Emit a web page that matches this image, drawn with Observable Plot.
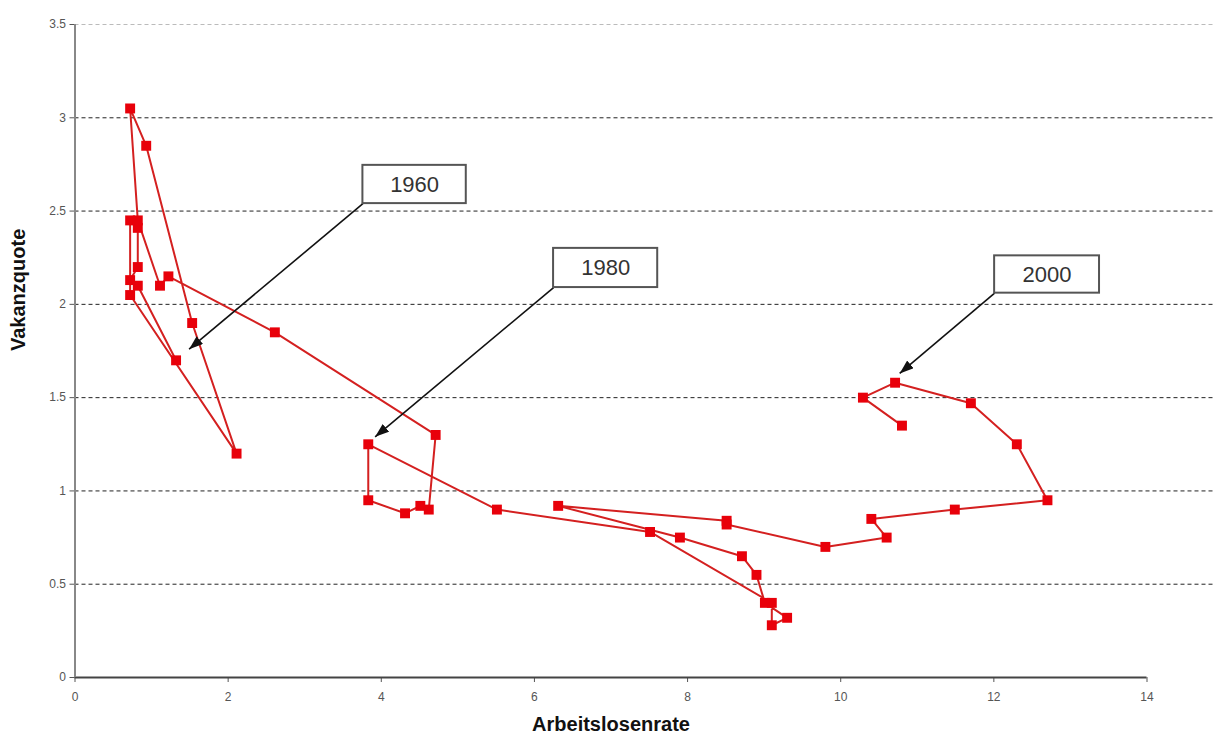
<!DOCTYPE html>
<html><head><meta charset="utf-8">
<script src="https://cdn.jsdelivr.net/npm/d3@7"></script>
<script src="https://cdn.jsdelivr.net/npm/@observablehq/plot@0.6"></script>
<style>
html,body{margin:0;padding:0;background:#fff;}
#chart svg{display:block;}
</style></head><body><div id="chart"></div>
<script>
// Beveridge curve data, Germany 1960-2002
const years = d3.range(1960, 2003);
const unemployment = [
  1.32, 0.82, 0.72, 0.82, 0.82, 0.72, 0.72, 2.11, 1.53, 0.93,
  0.72, 0.82, 1.11, 1.22, 2.61, 4.71, 4.62, 4.51, 4.31, 3.83,
  3.83, 5.51, 7.51, 9.10, 9.10, 9.30, 9.01, 8.90, 8.71, 7.90,
  6.31, 8.51, 8.51, 9.80, 10.60, 10.40, 11.49, 12.70, 12.30, 11.70,
  10.71, 10.29, 10.80
];
const vacancy = [
  1.70, 2.10, 2.13, 2.20, 2.41, 2.45, 2.05, 1.20, 1.90, 2.85,
  3.05, 2.45, 2.10, 2.15, 1.85, 1.30, 0.90, 0.92, 0.88, 0.95,
  1.25, 0.90, 0.78, 0.40, 0.28, 0.32, 0.40, 0.55, 0.65, 0.75,
  0.92, 0.84, 0.82, 0.70, 0.75, 0.85, 0.90, 0.95, 1.25, 1.47,
  1.58, 1.50, 1.35
];
const xTicks = [0, 2, 4, 6, 8, 10, 12, 14];
const yTicks = [0, 0.5, 1, 1.5, 2, 2.5, 3, 3.5];
const xLabel = "Arbeitslosenrate";
const yLabel = "Vakanzquote";

// Annotations (data units): label, box corners, arrow target
const annoLabels = ["1960", "1980", "2000"];
const annoBoxX1 = [3.76, 6.25, 12.01];
const annoBoxX2 = [5.11, 7.61, 13.38];
const annoBoxY1 = [2.54, 2.09, 2.06];
const annoBoxY2 = [2.745, 2.30, 2.26];
const annoTipX = [1.49, 3.92, 10.77];
const annoTipY = [1.76, 1.29, 1.63];

const rows = years.map((yr, i) => ({year: yr, u: unemployment[i], v: vacancy[i]}));
const annos = annoLabels.map((l, i) => ({
  label: l, x1: annoBoxX1[i], x2: annoBoxX2[i], y1: annoBoxY1[i], y2: annoBoxY2[i],
  tx: annoTipX[i], ty: annoTipY[i]
}));
const gridEnd = 14.87;

const svg = Plot.plot({
  width: 1215,
  height: 751,
  marginLeft: 74.5,
  marginRight: 68.5,
  marginTop: 24,
  marginBottom: 74,
  style: {fontFamily: "'Liberation Sans', Arial, sans-serif", fontSize: "12px", color: "#555", background: "#fff"},
  x: {domain: [0, 14], ticks: xTicks, tickFormat: d => String(d), tickSize: 5, tickPadding: 10, label: null},
  y: {domain: [0, 3.5], ticks: yTicks, tickFormat: d => String(d), tickSize: 5, tickPadding: 4, label: null},
  marks: [
    Plot.ruleY(yTicks.filter(d => d > 0 && d < 3.5), {x1: 0, x2: gridEnd, stroke: "#222", strokeWidth: 1, strokeDasharray: "4,3"}),
    Plot.ruleY(yTicks.filter(d => d === 3.5), {x1: 0, x2: gridEnd, stroke: "#bbb", strokeWidth: 1, strokeDasharray: "4,3"}),
    Plot.ruleY([0], {stroke: "#444", strokeWidth: 2}),
    Plot.ruleX([0], {stroke: "#888", strokeWidth: 2}),
    Plot.line(rows, {x: "u", y: "v", stroke: "#d42020", strokeWidth: 2}),
    Plot.dot(rows, {x: "u", y: "v", symbol: "square", r: 5.6, fill: "#e8000a"}),
    Plot.link(annos, {x1: "x1", y1: "y1", x2: "tx", y2: "ty", stroke: "#111", strokeWidth: 1.6}),
    Plot.rect(annos, {x1: "x1", x2: "x2", y1: "y1", y2: "y2", fill: "white", stroke: "#555", strokeWidth: 2}),
    Plot.text(annos, {x: d => (d.x1 + d.x2) / 2, y: d => (d.y1 + d.y2) / 2, text: "label", fontSize: 22, fill: "#333"}),
    Plot.text([xLabel], {text: d => d, frameAnchor: "bottom", dy: 53, fontSize: 20, fontWeight: "bold", fill: "#111"}),
    Plot.text([yLabel], {text: d => d, frameAnchor: "left", dx: -56, rotate: -90, fontSize: 20, fontWeight: "bold", fill: "#111"})
  ]
});

// filled arrowheads on the annotation links
const ns = "http://www.w3.org/2000/svg";
const defs = document.createElementNS(ns, "defs");
const marker = document.createElementNS(ns, "marker");
marker.setAttribute("id", "ahead");
marker.setAttribute("viewBox", "0 0 14 10");
marker.setAttribute("refX", "14");
marker.setAttribute("refY", "5");
marker.setAttribute("markerUnits", "userSpaceOnUse");
marker.setAttribute("markerWidth", "14");
marker.setAttribute("markerHeight", "10");
marker.setAttribute("orient", "auto");
const mp = document.createElementNS(ns, "path");
mp.setAttribute("d", "M0,0L14,5L0,10z");
mp.setAttribute("fill", "#111");
marker.appendChild(mp);
defs.appendChild(marker);
svg.insertBefore(defs, svg.firstChild);
svg.querySelectorAll('g[aria-label="link"] path').forEach(p => p.setAttribute("marker-end", "url(#ahead)"));

document.getElementById("chart").appendChild(svg);
</script></body></html>
